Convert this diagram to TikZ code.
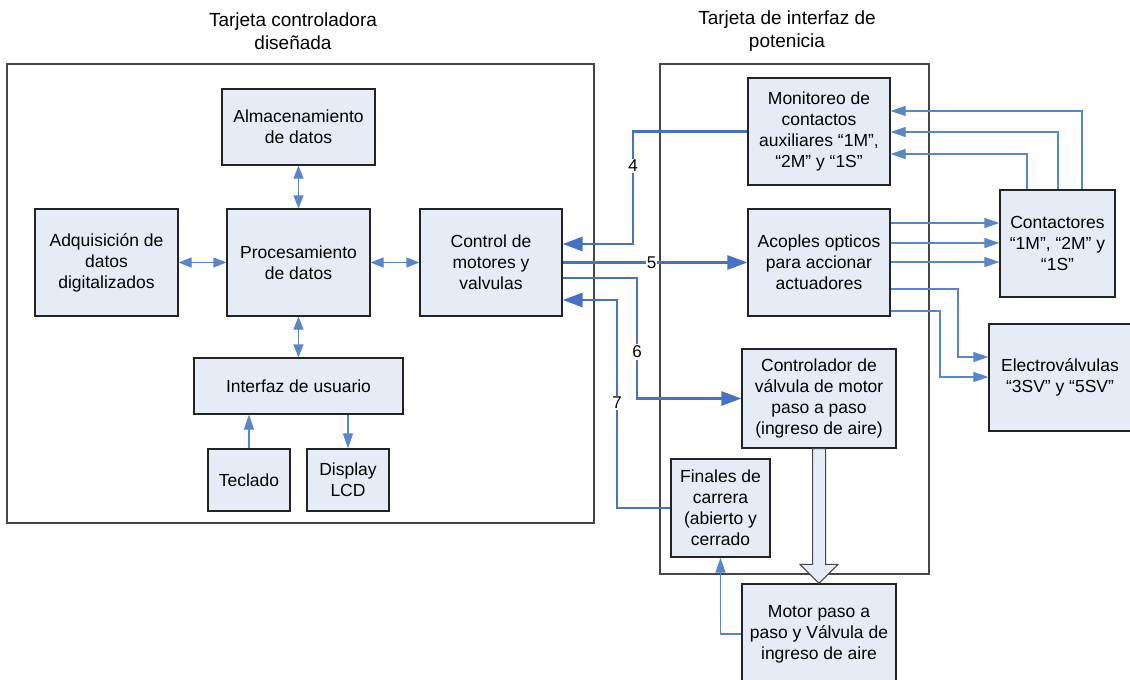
\documentclass[tikz,border=0pt]{standalone}
\usepackage{fontspec}
\setmainfont{Liberation Sans}
\usetikzlibrary{arrows.meta,calc}

\definecolor{boxfill}{RGB}{230,236,246}
\definecolor{boxline}{RGB}{35,35,35}
\definecolor{frameline}{RGB}{70,70,70}
\definecolor{wire}{RGB}{68,114,196}
\definecolor{thinwire}{RGB}{88,134,206}

% block given by its corners: name, x1, y1, x2, y2, text
\newcommand\ddblock[6]{%
  \node[blk, minimum width={#4-#2}, minimum height={#5-#3}] (#1)
    at ({(#2+#4)/2},{(#3+#5)/2}) {#6};}

\begin{document}
\begin{tikzpicture}[x=1pt,y=-1pt,
  font=\fontsize{17.5}{21}\selectfont,
  blk/.style={draw=boxline, fill=boxfill, line width=1.2pt, align=center, inner sep=0pt},
  frame/.style={draw=frameline, line width=1.3pt},
  heading/.style={align=center, font=\fontsize{19}{23}\selectfont},
  thickwire/.style={draw=wire, line width=2.6pt, -{Triangle[length=20pt,width=14pt]}},
  thinwire/.style={draw=thinwire, line width=1.1pt, -{Triangle[length=15pt,width=10pt]}},
  dbl/.style={draw=thinwire, line width=1.2pt,
    {Triangle[length=13pt,width=10pt]}-{Triangle[length=13pt,width=10pt]}},
  num/.style={fill=white, inner sep=1.5pt, font=\fontsize{17}{19}\selectfont},
  hollow/.style={draw=frameline, fill=boxfill, line width=1pt, line join=miter}
]
\useasboundingbox (0,0) rectangle (1130,680);

% headings and the two boards
\node[heading] (t1) at (293,31) {Tarjeta controladora\\diseñada};
\node[heading] (t2) at (787,31) {Tarjeta de interfaz de\\potenicia};
\draw[frame] (7,64) rectangle (594,523);
\draw[frame] (660,64) rectangle (929,574);

% controller board blocks
\ddblock{alm}{222}{89}{375}{165}{Almacenamiento\\de datos}
\ddblock{adq}{35}{209}{178}{316}{Adquisición de\\datos\\digitalizados}
\ddblock{proc}{227}{209}{370}{316}{Procesamiento\\de datos}
\ddblock{ctrl}{420}{209}{562}{316}{Control de\\motores y\\valvulas}
\ddblock{iface}{194}{358}{403}{414}{Interfaz de usuario}
\ddblock{tecl}{208}{449}{290}{511}{Teclado}
\ddblock{lcd}{307}{449}{389}{511}{Display\\LCD}

% power interface blocks
\ddblock{mon}{748}{78}{890}{185}{Monitoreo de\\contactos\\auxiliares “1M”,\\“2M” y “1S”}
\ddblock{acop}{748}{209}{890}{316}{Acoples opticos\\para accionar\\actuadores}
\ddblock{cvm}{742}{349}{896}{448}{Controlador de\\válvula de motor\\paso a paso\\(ingreso de aire)}
\ddblock{fin}{671}{459}{770}{557}{Finales de\\carrera\\(abierto y\\cerrado}
\ddblock{mot}{742}{584}{896}{684}{Motor paso a\\paso y Válvula de\\ingreso de aire}

% field devices
\ddblock{cont}{1000}{190}{1115}{297}{Contactores\\“1M”, “2M” y\\“1S”}
\ddblock{ev}{989}{324}{1131}{431}{Electroválvulas\\“3SV” y “5SV”}

% internal links of the controller
\draw[dbl] (alm.south) -- (proc.north);
\draw[dbl] (adq.east) -- (proc.west);
\draw[dbl] (proc.east) -- (ctrl.west);
\draw[dbl] (proc.south) -- (iface.north);
\draw[thinwire] (tecl.north) -- (tecl.north |- iface.south);
\draw[thinwire] (lcd.north |- iface.south) -- (lcd.north);

% buses between the boards
\coordinate (w4) at (633,244);
\coordinate (w6) at (637,278);
\coordinate (w7) at (617,300);
\draw[thickwire] (mon.west) -| (w4) -- (ctrl.east |- w4);
\draw[thickwire] (ctrl.east) -- (acop.west);
\draw[thickwire] (ctrl.east |- w6) -- (w6) |- (cvm.west);
\draw[thickwire] (fin.west) -| (w7) -- (ctrl.east |- w7);
\node[num] (n4) at (633,166) {4};
\node[num, inner sep=1pt] (n5) at (651.5,262.5) {5};
\node[num] (n6) at (637,352) {6};
\node[num] (n7) at (617,403) {7};

% auxiliary contacts back to monitoring
\coordinate (k1) at (1082,111);
\coordinate (k2) at (1058,132);
\coordinate (k3) at (1027,154);
\draw[thinwire] (cont.north -| k1) -- (k1) -- (mon.east |- k1);
\draw[thinwire] (cont.north -| k2) -- (k2) -- (mon.east |- k2);
\draw[thinwire] (cont.north -| k3) -- (k3) -- (mon.east |- k3);

% optocoupler outputs
\coordinate (a1) at (945,223);
\coordinate (a2) at (945,243);
\coordinate (a3) at (945,262);
\draw[thinwire] (acop.east |- a1) -- (cont.west |- a1);
\draw[thinwire] (acop.east |- a2) -- (cont.west |- a2);
\draw[thinwire] (acop.east |- a3) -- (cont.west |- a3);
\coordinate (e1) at (958,289);
\coordinate (e1b) at (958,357);
\coordinate (e2) at (940,311);
\coordinate (e2b) at (940,377);
\draw[thinwire] (acop.east |- e1) -| (e1b) -- (ev.west |- e1b);
\draw[thinwire] (acop.east |- e2) -| (e2b) -- (ev.west |- e2b);

% limit switches fed by the motor valve
\draw[thinwire] (mot.west) -| (fin.south);

% stepper drive to motor
\draw[hollow] ($(cvm.south)+(-6.5,0)$) -- ($(mot.north)+(-6.5,-19)$)
  -- ($(mot.north)+(-19,-19)$) -- (mot.north) -- ($(mot.north)+(19,-19)$)
  -- ($(mot.north)+(6.5,-19)$) -- ($(cvm.south)+(6.5,0)$) -- cycle;
\end{tikzpicture}
\end{document}
